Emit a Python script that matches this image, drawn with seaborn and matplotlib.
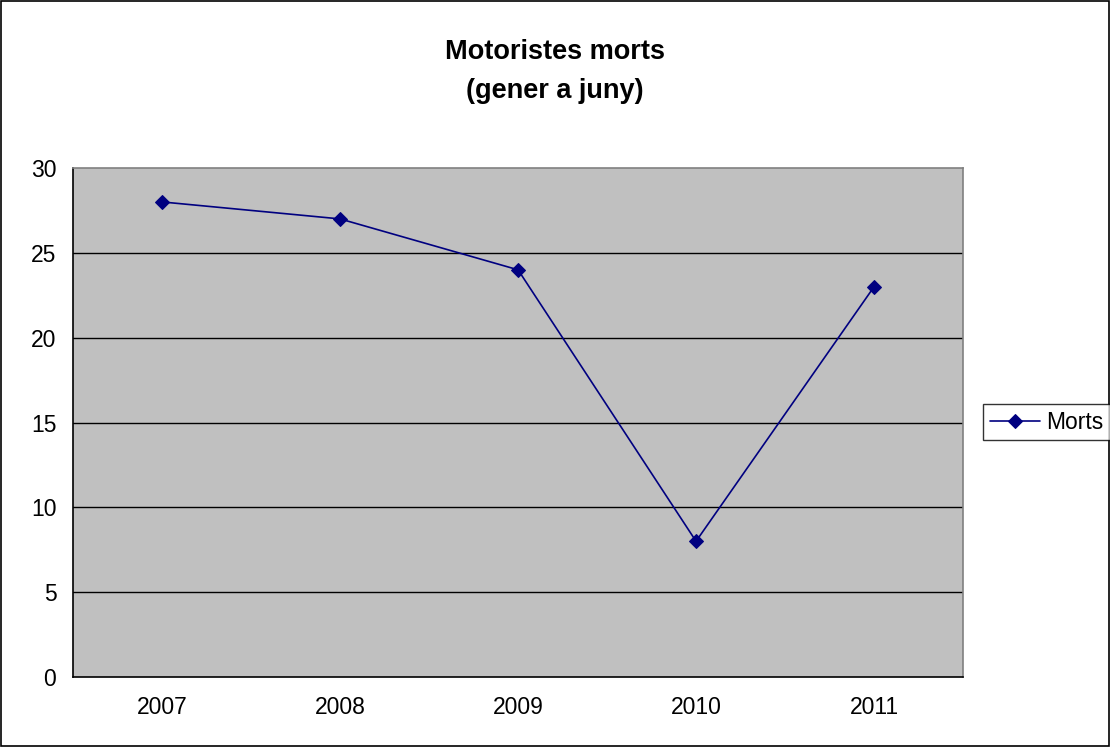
import numpy as np
import pandas as pd
import matplotlib
matplotlib.use("Agg")
import matplotlib.pyplot as plt
import seaborn as sns

# Dades del gràfic
anys = ["2007", "2008", "2009", "2010", "2011"]
morts = [28, 27, 24, 8, 23]
titol = "Motoristes morts\n(gener a juny)"
serie = "Morts"

df = pd.DataFrame({"any": anys, "morts": morts})

sns.set_style("white")
plt.rcParams['font.family'] = ['Liberation Sans', 'DejaVu Sans']
plt.rcParams['text.color'] = 'black'
plt.rcParams['xtick.color'] = 'black'
plt.rcParams['ytick.color'] = 'black'

fig = plt.figure(figsize=(11.1, 7.47), dpi=100)
ax = fig.add_axes([0.0658, 0.0937, 0.8018, 0.6814])
ax.set_facecolor("#C0C0C0")

sns.lineplot(data=df, x="any", y="morts", ax=ax, color="#000080",
             marker="D", markersize=7.5, linewidth=1.2, label=serie,
             markeredgecolor="#000080")

ax.set_xlim(-0.5, 4.5)
ax.set_ylim(0, 30)
ax.set_yticks(np.arange(0, 31, 5))
ax.set_xticks(range(len(anys)))
ax.set_xticklabels(anys)
ax.set_xticks(np.arange(-0.5, len(anys), 1), minor=True)
ax.tick_params(axis="x", which="major", length=0, pad=14, labelsize=16.5)
ax.tick_params(axis="x", which="minor", length=6, width=1, direction="out", color="black")
ax.tick_params(axis="y", length=6, width=1, direction="out", color="black", labelsize=16.5, pad=6)
ax.set_xlabel("")
ax.set_ylabel("")

for v in np.arange(5, 30, 5):
    ax.axhline(v, color="black", linewidth=1, zorder=1)

for s in ["left", "bottom"]:
    ax.spines[s].set_color("black")
    ax.spines[s].set_linewidth(1.2)
for s in ["top", "right"]:
    ax.spines[s].set_color("#808080")
    ax.spines[s].set_linewidth(1.2)

ax.get_legend().remove()
h, l = ax.get_legend_handles_labels()
leg = fig.legend(h, l, loc="center left", bbox_to_anchor=(0.8855, 0.435),
                 frameon=True, fancybox=False, fontsize=16.5, handlelength=2.2,
                 borderpad=0.3, borderaxespad=0, handletextpad=0.25)
leg.get_frame().set_edgecolor("black")
leg.get_frame().set_linewidth(1)

fig.suptitle(titol, y=0.948, fontsize=19.5, fontweight="bold", linespacing=1.65)

# marc exterior
fig.patches.append(plt.Rectangle((0.0005, 0.0007), 0.9985, 0.9985, transform=fig.transFigure,
                                 fill=False, edgecolor="black", linewidth=1.2))

fig.savefig("out.png", dpi=100)
